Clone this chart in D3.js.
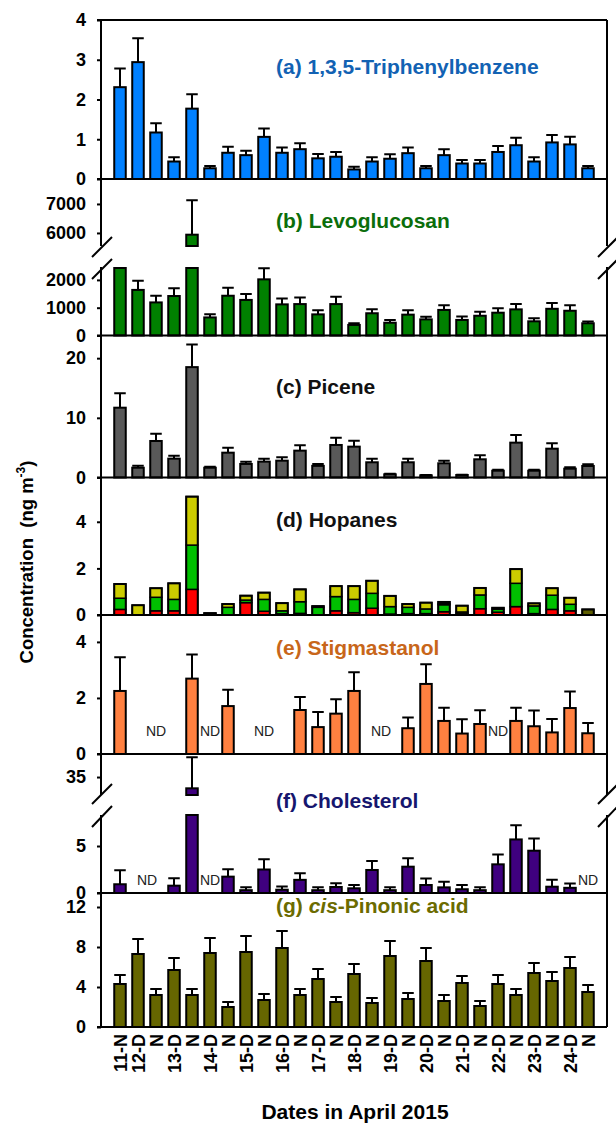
<!DOCTYPE html>
<html>
<head>
<meta charset="utf-8">
<script src="https://cdn.jsdelivr.net/npm/d3@7"></script>
<style>
body { margin: 0; background: #fff; }
text { font-family: Arial, "Liberation Sans", sans-serif; }
</style>
</head>
<body>
<svg width="616" height="1128"></svg>
<script>
// sampling periods, D = day, N = night
var labels = ["11-N","12-D","N","13-D","N","14-D","N","15-D","N","16-D","N","17-D","N","18-D","N",
              "19-D","N","20-D","N","21-D","N","22-D","N","23-D","N","24-D","N"];

var tpb    = [2.31,2.94,1.17,0.44,1.77,0.27,0.66,0.60,1.06,0.66,0.75,0.52,0.56,0.24,0.44,0.51,0.65,0.27,0.60,0.39,0.39,0.68,0.85,0.44,0.92,0.87,0.27];
var tpbErr = [0.47,0.60,0.23,0.11,0.36,0.06,0.15,0.11,0.21,0.13,0.15,0.11,0.12,0.07,0.11,0.11,0.14,0.06,0.15,0.09,0.09,0.15,0.19,0.11,0.19,0.19,0.06];

var levo    = [2600,1640,1190,1420,5940,650,1430,1280,2020,1120,1130,760,1130,380,800,460,750,580,920,560,710,820,940,510,960,890,440];
var levoErr = [0,330,240,280,1185,110,290,215,395,215,240,150,260,60,145,95,155,95,170,120,145,160,190,110,205,195,60];

var picene    = [11.7,1.64,6.12,3.16,18.5,1.64,4.16,2.27,2.66,2.82,4.5,1.95,5.45,5.17,2.55,0.53,2.55,0.36,2.38,0.42,3.05,1.14,5.84,1.14,4.83,1.48,1.93];
var piceneErr = [2.4,0.34,1.23,0.5,3.8,0.16,0.84,0.39,0.5,0.57,0.9,0.33,1.23,1.0,0.61,0.08,0.61,0.05,0.44,0.04,0.67,0.17,1.29,0.17,0.91,0.23,0.28];

// hopanes, stacked from the bottom
var hopRed    = [0.24,0,0.18,0.18,1.10,0,0,0.53,0.16,0.05,0.07,0,0.18,0.10,0.29,0.04,0.06,0.06,0.14,0,0.27,0.12,0.36,0.06,0.24,0.18,0];
var hopGreen  = [0.48,0,0.58,0.49,1.90,0,0.33,0.11,0.51,0.13,0.50,0.33,0.61,0.57,0.64,0.32,0.27,0.20,0.30,0.05,0.59,0.13,1.00,0.33,0.61,0.28,0];
var hopDark   = [0,0,0,0,0,0.08,0,0,0,0,0,0,0,0,0,0,0,0,0.05,0.08,0,0,0,0,0,0,0.24];
var hopYellow = [0.61,0.42,0.39,0.69,2.08,0,0.14,0.19,0.29,0.33,0.53,0.05,0.45,0.57,0.54,0.46,0.14,0.27,0.07,0.27,0.30,0.06,0.61,0.11,0.30,0.28,0];

// null = ND
var stig    = [2.25,null,null,null,2.69,null,1.71,null,null,null,1.57,0.96,1.44,2.25,null,null,0.92,2.5,1.18,0.73,1.07,null,1.18,0.99,0.77,1.64,0.74];
var stigErr = [1.2,0,0,0,0.86,0,0.58,0,0,0,0.46,0.54,0.51,0.67,0,0,0.38,0.7,0.47,0.51,0.49,0,0.47,0.56,0.48,0.59,0.37];

var chol    = [0.93,null,null,0.78,33.8,null,1.74,0.3,2.5,0.35,1.4,0.3,0.64,0.5,2.45,0.3,2.8,0.85,0.6,0.4,0.3,3.05,5.7,4.5,0.67,0.55,null];
var cholErr = [1.5,0,0,0.78,3.3,0,0.8,0.3,1.1,0.35,0.7,0.3,0.4,0.35,0.95,0.3,0.9,0.7,0.6,0.45,0.3,1.05,1.5,1.3,0.73,0.45,0];

var pinonic    = [4.3,7.3,3.2,5.7,3.2,7.4,2.0,7.5,2.7,7.9,3.2,4.8,2.5,5.3,2.4,7.1,2.8,6.6,2.6,4.4,2.1,4.3,3.2,5.4,4.6,5.9,3.5];
var pinonicErr = [0.9,1.5,0.6,1.2,0.6,1.5,0.5,1.6,0.6,1.7,0.6,1.0,0.5,1.0,0.5,1.5,0.6,1.3,0.6,0.7,0.5,0.9,0.6,1.0,0.9,1.1,0.7];

var svg = d3.select("svg"),
    left = 101,
    right = 607;

var x = d3.scaleBand()
    .domain(d3.range(labels.length))
    .range([111, 597])
    .paddingInner(0.36)
    .paddingOuter(0.18);
var bw = x.bandwidth();

function seg(y0, y1, d0, d1, ticks) {
    return {scale: d3.scaleLinear().domain([d0, d1]).range([y0, y1]), ticks: ticks};
}

var panels = [
    {vals: tpb, errs: tpbErr, fill: "#0080ff", title: "(a) 1,3,5-Triphenylbenzene", color: "#1262b3", ty: 74,
     segs: [seg(179, 20, 0, 4, [0,1,2,3,4])]},
    {vals: levo, errs: levoErr, fill: "#008000", title: "(b) Levoglucosan", color: "#0b6e0b", ty: 228,
     segs: [seg(335.5, 268, 0, 2428, [0,1000,2000]), seg(246, 180, 5550, 7826, [6000,7000])]},
    {vals: picene, errs: piceneErr, fill: "#595959", title: "(c) Picene", color: "#111", ty: 394,
     segs: [seg(477.5, 335.5, 0, 23.8, [0,10,20])]},
    {stack: true, title: "(d) Hopanes", color: "#111", ty: 527,
     segs: [seg(615, 477.5, 0, 5.9, [0,2,4])]},
    {vals: stig, errs: stigErr, fill: "#ff8040", title: "(e) Stigmastanol", color: "#c8661a", ty: 655, ndY: 736,
     segs: [seg(754, 615, 0, 4.96, [0,2,4])]},
    {vals: chol, errs: cholErr, fill: "#3f007f", title: "(f) Cholesterol", color: "#16166e", ty: 808, ndY: 885,
     segs: [seg(893, 815, 0, 8.3, [0,5]), seg(795, 754, 33.09, 37.45, [35])]},
    {vals: pinonic, errs: pinonicErr, fill: "#666600", title: "cis", color: "#6b6b00", ty: 913,
     segs: [seg(1027, 893, 0, 13.4, [0,4,8,12])]}
];

var gBars = svg.append("g"),
    gAxis = svg.append("g");

function drawBars(p) {
    p.segs.forEach(function(s) {
        var lo = s.scale.domain()[0], hi = s.scale.domain()[1];
        var idx = d3.range(p.vals.length).filter(function(i) { return p.vals[i] != null && p.vals[i] > lo; });
        var inSeg = idx.filter(function(i) { return p.vals[i] <= hi && p.errs[i] > 0; });
        // error bars (upper half only)
        gBars.selectAll(null).data(inSeg).join("path")
            .attr("d", function(i) {
                var y0 = s.scale(p.vals[i]), y1 = s.scale(Math.min(p.vals[i] + p.errs[i], hi));
                var cx = x(i) + bw / 2;
                return "M" + cx + "," + y0 + "V" + y1 + "M" + (cx - bw / 2) + "," + y1 + "H" + (cx + bw / 2);
            })
            .attr("fill", "none").attr("stroke", "#000").attr("stroke-width", 2);
        gBars.selectAll(null).data(idx).join("rect")
            .attr("x", function(i) { return x(i); })
            .attr("width", bw)
            .attr("y", function(i) { return s.scale(Math.min(p.vals[i], hi)); })
            .attr("height", function(i) { return s.scale(lo) - s.scale(Math.min(p.vals[i], hi)); })
            .attr("fill", p.fill)
            .attr("stroke", "#000")
            .attr("stroke-width", 2);
    });
    if (p.ndY) {
        // ND label in the middle of each run of missing values
        var runs = [], start = null;
        p.vals.forEach(function(v, i) {
            if (v == null && start == null) start = i;
            if (v != null && start != null) { runs.push([start, i - 1]); start = null; }
        });
        if (start != null) runs.push([start, p.vals.length - 1]);
        gBars.selectAll(null).data(runs).join("text")
            .attr("x", function(r) { return (x(r[0]) + x(r[1])) / 2 + bw / 2; })
            .attr("y", p.ndY)
            .attr("text-anchor", "middle")
            .attr("font-size", 14)
            .attr("fill", "#222")
            .text("ND");
    }
}

function drawStack(p) {
    var s = p.segs[0].scale;
    var rows = labels.map(function(l, i) {
        return {i: i, red: hopRed[i], green: hopGreen[i], dark: hopDark[i], yellow: hopYellow[i]};
    });
    var keys = ["red", "green", "dark", "yellow"];
    var colors = {red: "#ff0000", green: "#00c000", dark: "#5e5e00", yellow: "#cccc00"};
    var series = d3.stack().keys(keys)(rows);
    gBars.selectAll(null).data(series).join("g")
        .attr("fill", function(d) { return colors[d.key]; })
        .selectAll("rect")
        .data(function(d) { return d.filter(function(e) { return e[1] - e[0] > 0; }); })
        .join("rect")
        .attr("x", function(d) { return x(d.data.i); })
        .attr("width", bw)
        .attr("y", function(d) { return s(d[1]); })
        .attr("height", function(d) { return s(d[0]) - s(d[1]); })
        .attr("stroke", "#000")
        .attr("stroke-width", 1.5);
    // outline round the whole bar
    gBars.selectAll(null).data(rows).join("rect")
        .attr("x", function(d) { return x(d.i); })
        .attr("width", bw)
        .attr("y", function(d) { return s(d.red + d.green + d.dark + d.yellow); })
        .attr("height", function(d) { return s(0) - s(d.red + d.green + d.dark + d.yellow); })
        .attr("fill", "none")
        .attr("stroke", "#000")
        .attr("stroke-width", 2);
}

panels.forEach(function(p) {
    if (p.stack) drawStack(p); else drawBars(p);
    // zero line across the panel
    var s0 = p.segs[0].scale;
    gAxis.append("line")
        .attr("x1", left - 4).attr("x2", right)
        .attr("y1", s0(0)).attr("y2", s0(0))
        .attr("stroke", "#000").attr("stroke-width", 2);
    p.segs.forEach(function(s) {
        var ax = gAxis.append("g")
            .attr("transform", "translate(" + left + ",0)")
            .call(d3.axisLeft(s.scale).tickValues(s.ticks).tickSize(4).tickPadding(11).tickFormat(d3.format("d")));
        ax.select(".domain").remove();
        ax.selectAll("line").attr("stroke", "#000").attr("stroke-width", 2);
        ax.selectAll("text").attr("font-size", 18).attr("font-weight", "bold").attr("font-family", "Arial, 'Liberation Sans', sans-serif").attr("fill", "#000");
    });
    var t = gAxis.append("text")
        .attr("x", 276).attr("y", p.ty)
        .attr("font-size", 21).attr("font-weight", "bold")
        .attr("fill", p.color);
    if (p.title == "cis") {
        t.append("tspan").text("(g) ");
        t.append("tspan").attr("font-style", "italic").text("cis");
        t.append("tspan").text("-Pinonic acid");
    } else {
        t.text(p.title);
    }
});

// frame: top line, left axis and right border, both broken
gAxis.append("line").attr("x1", left - 4).attr("x2", right).attr("y1", 20).attr("y2", 20)
    .attr("stroke", "#000").attr("stroke-width", 2);
[[20, 246], [267, 795], [815, 1027]].forEach(function(r) {
    [left, right].forEach(function(xx) {
        gAxis.append("line").attr("x1", xx).attr("x2", xx).attr("y1", r[0]).attr("y2", r[1])
            .attr("stroke", "#000").attr("stroke-width", 2);
    });
});
// break marks
[[257, 237], [279, 259], [804, 784], [827, 806]].forEach(function(b) {
    [left, right].forEach(function(xx) {
        gAxis.append("line")
            .attr("x1", xx - 9).attr("y1", b[0]).attr("x2", xx + 11).attr("y2", b[1])
            .attr("stroke", "#000").attr("stroke-width", 2);
    });
});

// date labels
gAxis.selectAll(null).data(labels).join("text")
    .attr("transform", function(d, i) { return "translate(" + (x(i) + bw / 2 + 7) + ",1034) rotate(-90)"; })
    .attr("text-anchor", "end")
    .attr("font-size", 18)
    .attr("font-weight", "bold")
    .text(function(d) { return d; });

svg.append("text")
    .attr("x", 355).attr("y", 1119)
    .attr("text-anchor", "middle")
    .attr("font-size", 21).attr("font-weight", "bold")
    .text("Dates in April 2015");

var yt = svg.append("text")
    .attr("transform", "translate(33,562) rotate(-90)")
    .attr("text-anchor", "middle")
    .attr("font-size", 18.5).attr("font-weight", "bold");
yt.append("tspan").text("Concentration\u00a0\u00a0(ng m");
yt.append("tspan").attr("font-size", 12).attr("dy", -8).text("-3");
yt.append("tspan").attr("dy", 8).text(")");
</script>
</body>
</html>
